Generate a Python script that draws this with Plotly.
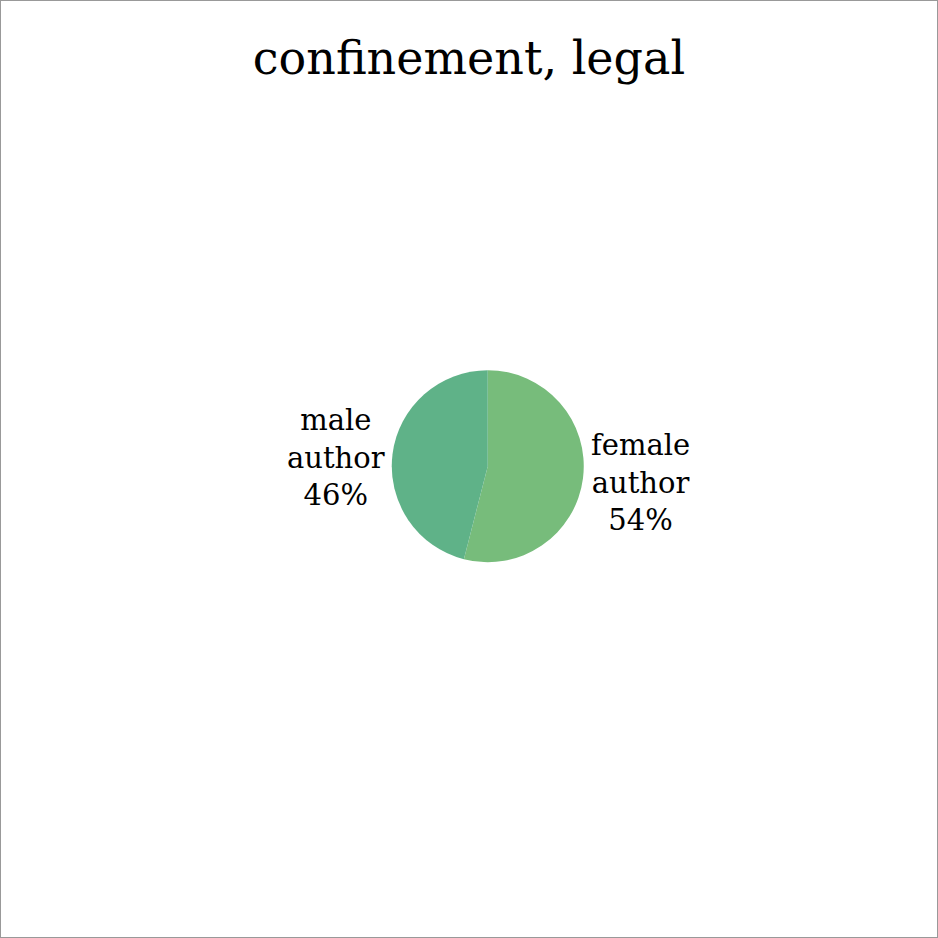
import math
import plotly.graph_objects as go

labels = ["female<br>author", "male<br>author"]
values = [54, 46]
colors = ["#77BC7B", "#5FB288"]
title = "confinement, legal"

W = 938
cx, cy = 0.520, 0.503
r_px = 96
d = 2 * r_px / W
fig = go.Figure(go.Pie(
    labels=labels, values=values, sort=False, direction="clockwise", rotation=0,
    marker=dict(colors=colors, line=dict(width=0)),
    textinfo="none",
    showlegend=False, hoverinfo="skip",
    domain=dict(x=[cx - d / 2, cx + d / 2], y=[cy - d / 2, cy + d / 2]),
))

total = sum(values)
start = 0.0
annotations = []
for lab, v in zip(labels, values):
    mid = (start + v / 2) / total * 2 * math.pi
    start += v
    rr = (r_px + 6) / W
    ax = cx + rr * math.sin(mid)
    ay = cy + rr * math.cos(mid) - 4 / W
    annotations.append(dict(
        x=ax, y=ay, xref="paper", yref="paper",
        xanchor="left" if math.sin(mid) > 0 else "right", yanchor="middle",
        text=f"{lab}<br>{round(v / total * 100)}%", showarrow=False, align="center",
        font=dict(family="DejaVu Serif", size=29, color="black"),
    ))

fig.update_layout(
    width=W, height=W, margin=dict(l=0, r=0, t=0, b=0),
    paper_bgcolor="white", plot_bgcolor="white",
    title=dict(text=title, x=0.5, xanchor="center", y=0.938, yanchor="middle",
               font=dict(family="DejaVu Serif", size=46, color="black")),
    annotations=annotations,
    shapes=[dict(type="rect", xref="paper", yref="paper", x0=0, y0=0, x1=1, y1=1,
                 line=dict(color="#999999", width=2))],
)
fig.write_html("out.html")
